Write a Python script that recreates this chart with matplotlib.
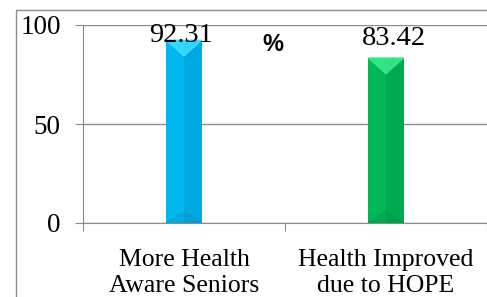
import matplotlib.pyplot as plt
from matplotlib.patches import Rectangle, Polygon

# data
categories = ['More Health\nAware Seniors', 'Health Improved\ndue to HOPE']
values = [92.31, 83.42]
labels = ['92.31', '83.42']
colors = ['#00B8F0', '#00B85A']
dark = ['#0090C8', '#00903F']
light = ['#40E0FF', '#40F090']

plt.rcParams['font.family'] = ['Liberation Serif', 'DejaVu Serif']

fig = plt.figure(figsize=(4.87, 2.97), dpi=100)

# outer chart border
fig.patches.append(Rectangle((16 / 487, -0.1), 1.2, 1 - 10 / 297 + 0.1,
                             transform=fig.transFigure, fill=False,
                             edgecolor='#8c8c8c', linewidth=1))

ax = fig.add_axes([83 / 487, 1 - 223 / 297, 1 - 83 / 487, 198 / 297])
x = list(range(len(values)))
w = 0.175

ax.bar(x, values, width=w, color=colors, zorder=3)
# darker right half for bevel look
ax.bar(x, values, width=w / 2, align='edge', color=dark, alpha=0.4, zorder=4)
label_y = [91.4, 90.0]
label_x = [-0.015, 1.04]
for i, v in enumerate(values):
    ax.add_patch(Polygon([(i - w / 2, v), (i + w / 2, v), (i, v - 8)],
                         closed=True, color=light[i], alpha=0.8, zorder=5))
    ax.add_patch(Polygon([(i - w / 2, 0), (i + w / 2, 0), (i, 6)],
                         closed=True, color=dark[i], alpha=0.3, zorder=5))
    ax.text(label_x[i], label_y[i], labels[i], ha='center', va='baseline',
            fontsize=20.5, zorder=6)

ax.text(0.44, 90, '%', ha='center', va='center', fontsize=17, fontweight='bold',
        family=['Liberation Sans', 'DejaVu Sans'])

ax.set_xlim(-0.5, 1.5)
ax.set_ylim(0, 100)
ax.set_yticks([0, 50, 100])
ax.set_yticklabels(['0', '50', '100'], fontsize=19.5)
ax.set_xticks([-0.5, 0.5, 1.5])
ax.set_xticklabels([])
ax.set_xticks(x, minor=True)
ax.set_xticklabels(categories, minor=True, fontsize=18.5, linespacing=1.2)
ax.tick_params(axis='x', which='minor', length=0, pad=19)
ax.tick_params(axis='x', which='major', length=6, color='#8c8c8c', direction='out')
ax.tick_params(axis='y', length=6, color='#8c8c8c', pad=10)
ax.grid(axis='y', color='#8c8c8c', linewidth=1, zorder=0)
ax.set_axisbelow(True)
for s in ['top', 'right']:
    ax.spines[s].set_visible(False)
for s in ['left', 'bottom']:
    ax.spines[s].set_color('#8c8c8c')
ax.patch.set_visible(False)

fig.savefig('out.png', dpi=100)
